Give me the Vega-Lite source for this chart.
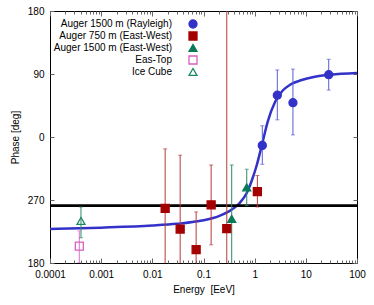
{
  "$schema": "https://vega.github.io/schema/vega-lite/v6.json",
  "width": 307,
  "height": 252,
  "autosize": {"type": "none"},
  "padding": {"left": 50, "top": 11, "right": 17, "bottom": 42},
  "background": "white",
  "config": {
    "font": "Liberation Sans",
    "view": {"stroke": "#000", "strokeWidth": 1},
    "axis": {"labelFont": "Liberation Sans", "titleFont": "Liberation Sans", "labelFontSize": 10, "titleFontSize": 10, "titleFontWeight": "normal", "labelColor": "#000", "titleColor": "#000", "grid": false, "domain": false, "tickColor": "#666", "tickWidth": 1}
  },
  "datasets": {
    "points": [
      {"series": "Auger 1500 m (Rayleigh)", "energy": 1.41, "phase": -12, "lo": -39, "hi": 16},
      {"series": "Auger 1500 m (Rayleigh)", "energy": 2.77, "phase": 59.7, "lo": 24.5, "hi": 95.8},
      {"series": "Auger 1500 m (Rayleigh)", "energy": 5.6, "phase": 49, "lo": 3, "hi": 97},
      {"series": "Auger 1500 m (Rayleigh)", "energy": 28, "phase": 89, "lo": 67, "hi": 111},
      {"series": "Auger 750 m (East-West)", "energy": 0.0178, "phase": -102, "lo": -187, "hi": -17},
      {"series": "Auger 750 m (East-West)", "energy": 0.035, "phase": -131.5, "lo": -237, "hi": -26},
      {"series": "Auger 750 m (East-West)", "energy": 0.0718, "phase": -161, "lo": -215, "hi": -107},
      {"series": "Auger 750 m (East-West)", "energy": 0.141, "phase": -97, "lo": -154, "hi": -40},
      {"series": "Auger 750 m (East-West)", "energy": 0.285, "phase": -131, "lo": -450, "hi": 190},
      {"series": "Auger 750 m (East-West)", "energy": 1.13, "phase": -78, "lo": -100, "hi": -55},
      {"series": "Auger 1500 m (East-West)", "energy": 0.356, "phase": -117, "lo": -194, "hi": -40},
      {"series": "Auger 1500 m (East-West)", "energy": 0.7, "phase": -72, "lo": -98, "hi": -46},
      {"series": "Eas-Top", "energy": 0.000374, "phase": -156, "lo": -179.5, "hi": -134},
      {"series": "Ice Cube", "energy": 0.000403, "phase": -120, "lo": -144, "hi": -100}
    ],
    "curve": [
      {"energy": 0.0001, "phase": -131.5},
      {"energy": 0.001, "phase": -129.5},
      {"energy": 0.01, "phase": -126.5},
      {"energy": 0.03, "phase": -124},
      {"energy": 0.1, "phase": -119},
      {"energy": 0.2, "phase": -113},
      {"energy": 0.3, "phase": -107},
      {"energy": 0.5, "phase": -95},
      {"energy": 0.7, "phase": -80},
      {"energy": 0.9, "phase": -60},
      {"energy": 1.1, "phase": -40},
      {"energy": 1.4, "phase": -10},
      {"energy": 1.8, "phase": 22},
      {"energy": 2.5, "phase": 50},
      {"energy": 3.5, "phase": 66},
      {"energy": 5, "phase": 75},
      {"energy": 8, "phase": 81},
      {"energy": 15, "phase": 86},
      {"energy": 30, "phase": 89},
      {"energy": 100, "phase": 91.5}
    ]
  },
  "resolve": {"axis": {"x": "independent", "y": "independent"}},
  "layer": [
    {
      "data": {"name": "curve"},
      "mark": {"type": "line", "color": "#3232c8", "strokeWidth": 2.5, "interpolate": "monotone", "clip": true},
      "encoding": {
        "x": {"field": "energy", "type": "quantitative", "scale": {"type": "log", "domain": [0.0001, 100], "nice": false},
          "axis": {"orient": "bottom", "title": "Energy \u00a0[EeV]", "titlePadding": 3, "labelPadding": 11, "labelFlush": false, "labelOverlap": false, "format": "~g",
            "values": [0.0001,0.0002,0.0003,0.0004,0.0005,0.0006,0.0007,0.0008,0.0009,0.001,0.002,0.003,0.004,0.005,0.006,0.007,0.008,0.009,0.01,0.02,0.03,0.04,0.05,0.06,0.07,0.08,0.09,0.1,0.2,0.3,0.4,0.5,0.6,0.7,0.8,0.9,1,2,3,4,5,6,7,8,9,10,20,30,40,50,60,70,80,90,100],
            "labelExpr": "abs(log(datum.value)/LN10 - round(log(datum.value)/LN10)) < 1e-6 ? datum.label : ''",
            "tickSize": {"condition": {"test": "abs(log(datum.value)/LN10 - round(log(datum.value)/LN10)) < 1e-6", "value": -5}, "value": -3}}},
        "y": {"field": "phase", "type": "quantitative", "scale": {"domain": [-180, 180], "nice": false},
          "axis": {"orient": "left", "title": "Phase [deg]", "values": [-180, -90, 0, 90, 180], "labelExpr": "datum.value < 0 ? datum.value + 360 : datum.value", "tickSize": -4, "labelPadding": 10, "titlePadding": 7}}
      }
    },
    {
      "data": {"values": [{"level": -98}]},
      "mark": {"type": "rule", "color": "#000", "strokeWidth": 2.8},
      "encoding": {
        "y": {"field": "level", "type": "quantitative",
          "axis": {"orient": "right", "title": null, "labels": false, "values": [-180, -90, 0, 90, 180], "tickSize": -4}}
      }
    },
    {
      "data": {"name": "points"},
      "mark": {"type": "rule", "strokeWidth": 1, "clip": true},
      "encoding": {
        "x": {"field": "energy", "type": "quantitative",
          "axis": {"orient": "top", "title": null, "labels": false,
            "values": [0.0001,0.0002,0.0003,0.0004,0.0005,0.0006,0.0007,0.0008,0.0009,0.001,0.002,0.003,0.004,0.005,0.006,0.007,0.008,0.009,0.01,0.02,0.03,0.04,0.05,0.06,0.07,0.08,0.09,0.1,0.2,0.3,0.4,0.5,0.6,0.7,0.8,0.9,1,2,3,4,5,6,7,8,9,10,20,30,40,50,60,70,80,90,100],
            "tickSize": {"condition": {"test": "abs(log(datum.value)/LN10 - round(log(datum.value)/LN10)) < 1e-6", "value": -5}, "value": -3}}},
        "y": {"field": "lo", "type": "quantitative", "axis": null},
        "y2": {"field": "hi"},
        "color": {"field": "series", "type": "nominal", "legend": null,
          "scale": {"domain": ["Ice Cube", "Eas-Top", "Auger 1500 m (East-West)", "Auger 750 m (East-West)", "Auger 1500 m (Rayleigh)"],
            "range": ["#2a8a68", "#e070d0", "#2a8a68", "#b83a3a", "#5a5ad8"]}}
      }
    },
    {
      "data": {"name": "points"},
      "mark": {"type": "tick", "orient": "horizontal", "size": 4, "thickness": 1, "clip": true},
      "encoding": {
        "x": {"field": "energy", "type": "quantitative", "axis": null},
        "y": {"field": "lo", "type": "quantitative", "axis": null},
        "color": {"field": "series", "type": "nominal", "legend": null}
      }
    },
    {
      "data": {"name": "points"},
      "mark": {"type": "tick", "orient": "horizontal", "size": 4, "thickness": 1, "clip": true},
      "encoding": {
        "x": {"field": "energy", "type": "quantitative", "axis": null},
        "y": {"field": "hi", "type": "quantitative", "axis": null},
        "color": {"field": "series", "type": "nominal", "legend": null}
      }
    },
    {
      "data": {"name": "points"},
      "mark": {"type": "point", "size": 64, "strokeWidth": 1.3, "opacity": 1},
      "encoding": {
        "x": {"field": "energy", "type": "quantitative", "axis": null},
        "y": {"field": "phase", "type": "quantitative", "axis": null},
        "shape": {"field": "series", "type": "nominal",
          "scale": {"domain": ["Auger 1500 m (Rayleigh)", "Auger 750 m (East-West)", "Auger 1500 m (East-West)", "Eas-Top", "Ice Cube"],
            "range": ["circle", "square", "triangle-up", "square", "triangle-up"]},
          "legend": {"orient": "none", "legendX": 138, "legendY": 8, "title": null, "labelAlign": "right", "labelOffset": -26, "labelFontSize": 10, "labelFont": "Liberation Sans", "labelColor": "#000", "rowPadding": -3.5, "symbolSize": 64, "symbolStrokeWidth": 1.3, "labelLimit": 200}},
        "fill": {"field": "series", "type": "nominal",
          "scale": {"domain": ["Auger 1500 m (Rayleigh)", "Auger 750 m (East-West)", "Auger 1500 m (East-West)", "Eas-Top", "Ice Cube"],
            "range": ["#3232c8", "#a50000", "#0a7a58", "transparent", "transparent"]},
          "legend": {"orient": "none", "legendX": 138, "legendY": 8, "title": null, "labelAlign": "right", "labelOffset": -26, "labelFontSize": 10, "labelFont": "Liberation Sans", "labelColor": "#000", "rowPadding": -3.5, "symbolSize": 64, "symbolStrokeWidth": 1.3, "labelLimit": 200}},
        "stroke": {"field": "series", "type": "nominal",
          "scale": {"domain": ["Auger 1500 m (Rayleigh)", "Auger 750 m (East-West)", "Auger 1500 m (East-West)", "Eas-Top", "Ice Cube"],
            "range": ["#3232c8", "#a50000", "#0a7a58", "#d860c0", "#1a8a60"]},
          "legend": {"orient": "none", "legendX": 138, "legendY": 8, "title": null, "labelAlign": "right", "labelOffset": -26, "labelFontSize": 10, "labelFont": "Liberation Sans", "labelColor": "#000", "rowPadding": -3.5, "symbolSize": 64, "symbolStrokeWidth": 1.3, "labelLimit": 200}}
      }
    }
  ]
}
